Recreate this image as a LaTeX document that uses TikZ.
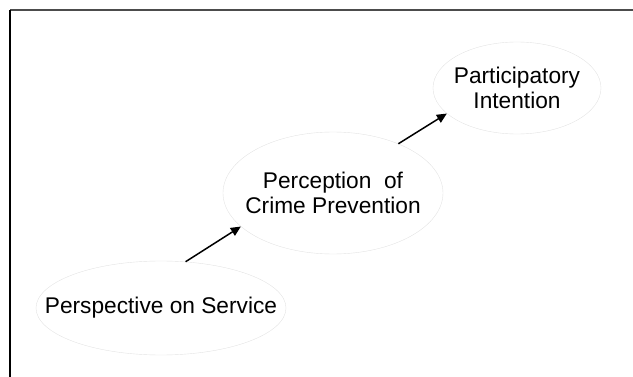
\documentclass[tikz,border=0pt]{standalone}
\usepackage{fontspec}
\setmainfont{Liberation Sans}
\usetikzlibrary{shapes.geometric,arrows.meta}
\tikzset{
  oval/.style={ellipse, draw=gray!22, inner sep=0pt},
  lbl/.style={font=\fontsize{22.7}{25}\selectfont, align=center, inner sep=0pt},
  arr/.style={-{Triangle[length=10pt,width=9pt]}, line width=1.5pt}
}
\begin{document}
\begin{tikzpicture}[x=1pt,y=-1pt]
\useasboundingbox (0,0) rectangle (633,377);
% frame
\draw[gray!60!black,line width=1.3pt] (10,10) -- (633,10);
\draw[line width=1.5pt] (10,10) -- (10,377);

\node[oval, minimum width=250pt, minimum height=94pt] (service) at (161,308) {};
\node[lbl] (servicetxt) at (service) {Perspective on Service};

\node[oval, minimum width=220pt, minimum height=122pt] (crime) at (333,193) {};
\node[lbl] (crimetxt) at (crime) {Perception\ \ of\\Crime Prevention};

\node[oval, minimum width=168pt, minimum height=92pt] (intent) at (517,88) {};
\node[lbl] (intenttxt) at (intent) {Participatory\\Intention};

\draw[arr] (service.62) -- (crime.200);
\draw[arr] (crime.37) -- (intent.200);
\end{tikzpicture}
\end{document}
